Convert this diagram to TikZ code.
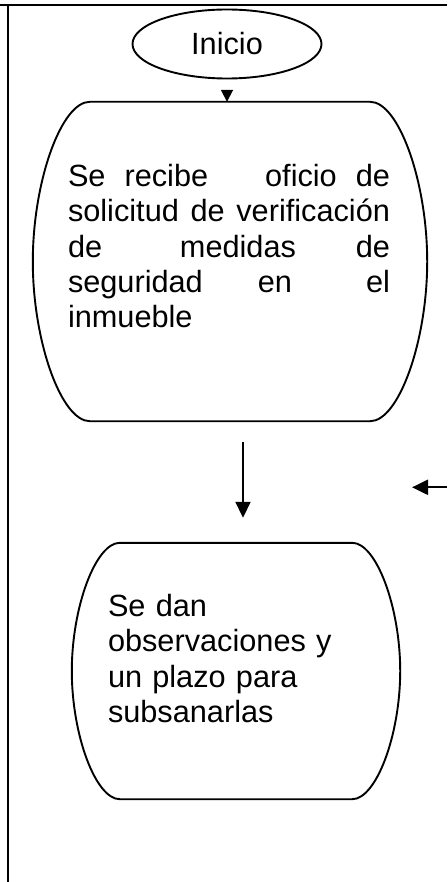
\documentclass[tikz,border=0pt]{standalone}
\usepackage{fontspec}
\setmainfont{Liberation Sans}[Ligatures=CommonOff]
\usepackage{tikz}
\usetikzlibrary{arrows.meta,positioning,shapes.geometric,calc}
\newcommand{\bulgebox}[2]{% #1 node, #2 inset of the flat edges
  \draw[shapeline] ($(#1.north west)+(#2,0)$) -- ($(#1.north east)-(#2,0)$)
    .. controls ($(#1.north east)-(#2/2,0)$) and ($(#1.east)!0.5!(#1.north east)$) .. (#1.east)
    .. controls ($(#1.east)!0.5!(#1.south east)$) and ($(#1.south east)-(#2/2,0)$) .. ($(#1.south east)-(#2,0)$)
    -- ($(#1.south west)+(#2,0)$)
    .. controls ($(#1.south west)+(#2/2,0)$) and ($(#1.west)!0.5!(#1.south west)$) .. (#1.west)
    .. controls ($(#1.west)!0.5!(#1.north west)$) and ($(#1.north west)+(#2/2,0)$) .. cycle;}

\begin{document}
\begin{tikzpicture}[
  x=1pt, y=-1pt,
  terminal/.style={draw, ellipse, line width=1.9pt, inner sep=0pt,
                   minimum width=189pt, minimum height=69pt,
                   font=\fontsize{30.7}{35.3}\selectfont},
  process/.style={inner sep=0pt},
  shapeline/.style={line width=1.9pt},
  txt/.style={inner sep=0pt, anchor=base west, align=left,
              font=\fontsize{30.7}{35.3}\selectfont},
  arr/.style={-{Triangle[length=16pt, width=15pt]}, line width=1.8pt},
  tiparr/.style={-{Triangle[length=12pt, width=12pt]}, line width=1.8pt},
  frame/.style={line width=1.8pt}
]
\useasboundingbox (0,0) rectangle (447,882);

% page frame
\draw[frame, line width=2.5pt] (0,5) -- (447,5);
\draw[frame] (8,5) -- (8,882);

\node[terminal] (inicio) at (227,44) {Inicio};

% first step
\node[process, minimum width=394pt, minimum height=319pt] (recibe) at (230,261.5) {};
\bulgebox{recibe}{57}
\node[txt, text width=322pt] (recibetxt) at ([xshift=35pt, yshift=-84.7pt]recibe.north west)
  {Se\hfill recibe\hfill\hfill\hfill oficio\hfill de\\
   solicitud\hfill de\hfill verificación\\
   de\hspace{18pt}\hfill medidas\hfill de\\
   seguridad\hfill en\hspace{19pt}\hfill el\\
   inmueble};

% second step
\node[process, minimum width=328pt, minimum height=256pt] (observ) at (236,671) {};
\bulgebox{observ}{48}
\node[txt, text width=230pt] (observtxt) at ([xshift=36pt, yshift=-73.7pt]observ.north west)
  {Se dan\\observaciones y\\un plazo para\\subsanarlas};

\draw[tiparr, shorten <=11.5pt] (inicio.south) -- (inicio.south |- recibe.north);
\draw[arr, shorten <=21pt, shorten >=25pt] ([xshift=13pt]recibe.south) -- ([xshift=7pt]observ.north);

% return arrow from the right
\coordinate (retorno) at (447,487.3);
\coordinate (retornofin) at (412,487.3);
\draw[arr, line width=2.2pt] (retorno) -- (retornofin);

\end{tikzpicture}
\end{document}
